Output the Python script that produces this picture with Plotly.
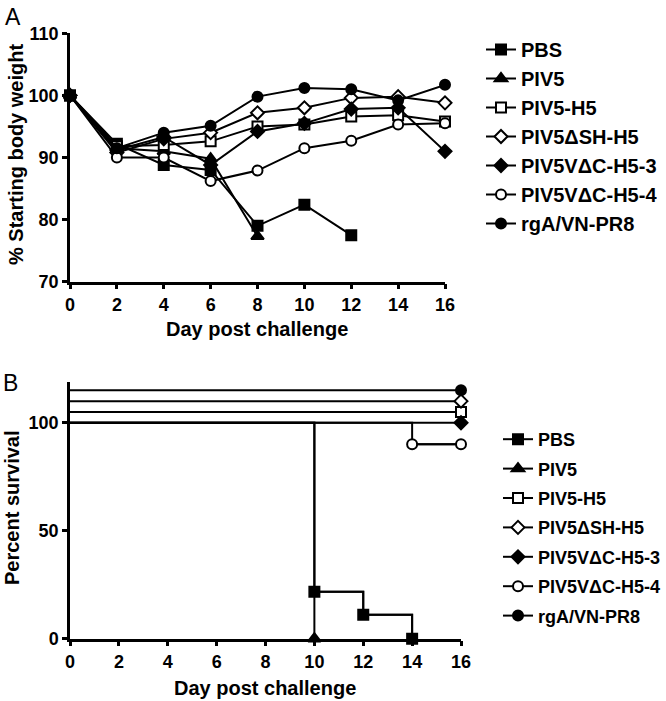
import plotly.graph_objects as go

# ---------------- data ----------------
groups = ["PBS", "PIV5", "PIV5-H5", "PIV5ΔSH-H5", "PIV5VΔC-H5-3", "PIV5VΔC-H5-4", "rgA/VN-PR8"]

days = [0, 2, 4, 6, 8, 10, 12, 14, 16]
w_pbs = [100, 92.2, 88.8, 88.0, 79.0, 82.4, 77.5, None, None]
w_piv5 = [100, 91.5, 91.0, 89.8, 77.3, None, None, None, None]
w_piv5_h5 = [100, 91.8, 92.0, 92.6, 95.0, 95.3, 96.6, 96.8, 95.8]
w_dsh_h5 = [100, 90.8, 93.0, 94.0, 97.2, 98.0, 99.6, 99.8, 98.8]
w_vdc_h5_3 = [100, 91.2, 93.3, 88.8, 94.2, 95.5, 97.8, 98.0, 91.0]
w_vdc_h5_4 = [100, 90.0, 90.0, 86.2, 87.9, 91.5, 92.7, 95.3, 95.5]
w_rga = [100, 91.5, 94.0, 95.1, 99.8, 101.2, 101.0, 99.2, 101.7]
weights = [w_pbs, w_piv5, w_piv5_h5, w_dsh_h5, w_vdc_h5_3, w_vdc_h5_4, w_rga]

# survival (Kaplan-Meier steps, plotted with GraphPad-style offsets)
s_days = [
    [0, 10, 12, 14],
    [0, 10],
    [0, 16],
    [0, 16],
    [0, 16],
    [0, 14, 16],
    [0, 16],
]
s_vals = [
    [100, 21.7, 11.1, 0],
    [100, 0],
    [105, 105],
    [110, 110],
    [100, 100],
    [100, 90, 90],
    [115, 115],
]

weight_ticks = [70, 80, 90, 100, 110]
survival_ticks = [0, 50, 100]
day_ticks = [0, 2, 4, 6, 8, 10, 12, 14, 16]

symbols = ["square", "triangle-up", "square", "diamond", "diamond", "circle", "circle"]
filled = [True, True, False, False, True, False, True]

FONT = "Liberation Sans, Arial, sans-serif"


def marker(i, size=10):
    return dict(symbol=symbols[i], size=size + (1 if symbols[i] == "triangle-up" else 0),
                color="black" if filled[i] else "white",
                line=dict(color="black", width=2))


fig = go.Figure()

for i, g in enumerate(groups):
    fig.add_trace(go.Scatter(
        x=days, y=weights[i], name=g, mode="lines+markers",
        line=dict(color="black", width=2),
        marker=marker(i),
        cliponaxis=False, connectgaps=False,
        xaxis="x", yaxis="y", legend="legend", legendgroup="a%d" % i,
    ))

# survival step lines
for i, g in enumerate(groups):
    fig.add_trace(go.Scatter(
        x=s_days[i], y=s_vals[i], name=g, mode="lines",
        line=dict(color="black", width=2, shape="hv"),
        cliponaxis=False, showlegend=False,
        xaxis="x2", yaxis="y2", legendgroup="b%d" % i,
    ))
# survival event / end markers
for i, g in enumerate(groups):
    fig.add_trace(go.Scatter(
        x=s_days[i][1:], y=s_vals[i][1:], name=g, mode="lines+markers",
        line=dict(color="black", width=2, shape="hv"),
        marker=marker(i),
        cliponaxis=False,
        xaxis="x2", yaxis="y2", legend="legend2", legendgroup="b%d" % i,
    ))

W, H = 666, 701
tickfont = dict(family=FONT, size=18, color="black", weight="bold")
titlefont = dict(family=FONT, size=20, color="black", weight="bold")
axis_common = dict(showline=True, linecolor="black", linewidth=2.5, ticks="outside",
                   ticklen=5, tickwidth=2.5, tickcolor="black", showgrid=False,
                   zeroline=False, tickfont=tickfont, mirror=False, automargin=False)


def px_x(v):
    return v / W


def px_y(v):
    return 1 - v / H


fig.update_layout(
    width=W, height=H,
    margin=dict(l=0, r=0, t=0, b=0, autoexpand=False),
    paper_bgcolor="white", plot_bgcolor="white",
    xaxis=dict(domain=[px_x(70), px_x(445)], range=[0, 16], tickvals=day_ticks,
               anchor="y", **axis_common),
    yaxis=dict(domain=[px_y(281.7), px_y(33.3)], range=[70, 110], tickvals=weight_ticks,
               anchor="x", **axis_common),
    xaxis2=dict(domain=[px_x(70), px_x(461)], range=[0, 16], tickvals=day_ticks,
                anchor="y2", **axis_common),
    yaxis2=dict(domain=[px_y(638.7), px_y(381.7)], range=[0, 119], tickvals=survival_ticks,
                anchor="x2", **axis_common),
    legend=dict(x=px_x(481), y=px_y(30), xanchor="left", yanchor="top",
                font=dict(family=FONT, size=20, color="black", weight="bold"),
                bgcolor="rgba(0,0,0,0)", itemwidth=30, tracegroupgap=0),
    legend2=dict(x=px_x(498), y=px_y(421), xanchor="left", yanchor="top",
                 font=dict(family=FONT, size=18, color="black", weight="bold"),
                 bgcolor="rgba(0,0,0,0)", itemwidth=30, tracegroupgap=3),
    showlegend=True,
    hovermode=False,
    annotations=[
        dict(text="A", x=px_x(13), y=px_y(17), xref="paper", yref="paper", showarrow=False,
             xanchor="center", yanchor="middle", font=dict(family=FONT, size=23, color="black")),
        dict(text="B", x=px_x(10), y=px_y(383), xref="paper", yref="paper", showarrow=False,
             xanchor="center", yanchor="middle", font=dict(family=FONT, size=23, color="black")),
        dict(text="% Starting body weight", x=px_x(16), y=px_y(155), xref="paper", yref="paper",
             showarrow=False, textangle=-90, xanchor="center", yanchor="middle", font=titlefont),
        dict(text="Day post challenge", x=px_x(257), y=px_y(329), xref="paper", yref="paper",
             showarrow=False, xanchor="center", yanchor="middle", font=titlefont),
        dict(text="Percent survival", x=px_x(12), y=px_y(508), xref="paper", yref="paper",
             showarrow=False, textangle=-90, xanchor="center", yanchor="middle", font=titlefont),
        dict(text="Day post challenge", x=px_x(265), y=px_y(688), xref="paper", yref="paper",
             showarrow=False, xanchor="center", yanchor="middle", font=titlefont),
    ],
)

fig.write_html("out.html", config={"displayModeBar": False},
               post_script="document.body.style.margin='0';document.body.style.overflow='hidden';")
